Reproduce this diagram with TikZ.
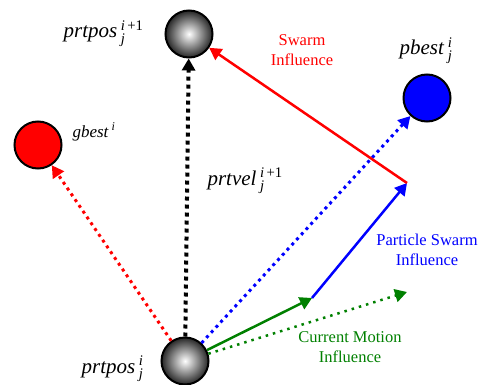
\documentclass[tikz,border=0pt]{standalone}
\usepackage{amsmath}
\usepackage{fontspec}
\setmainfont{Liberation Serif}
\usetikzlibrary{arrows.meta}
\newcommand{\pvar}[3]{\textit{#1}\,$^{\textit{#2}}_{\textit{#3}}$}

\begin{document}
\begin{tikzpicture}[x=1pt,y=-1pt,
  ball/.style={circle,draw,line width=2pt,minimum size=47pt,inner sep=0pt},
  kugel/.style={ball,inner color=white,outer color=black!85},
  pfeil/.style={-{Triangle[length=12pt,width=13pt]}},
  punkte/.style={pfeil,line width=3pt,dash pattern=on 3pt off 4pt},
  linie/.style={pfeil,line width=2.5pt},
  varname/.style={font=\fontsize{21}{24}\selectfont},
  einfluss/.style={font=\fontsize{16.5}{20}\selectfont,align=center}]
\useasboundingbox (0,0) rectangle (484,385);
% Teilchen (alt und neu), globales und persoenliches Optimum
\node[kugel] (x0) at (185,361) {};
\node[kugel] (x1) at (189,34) {};
\node[ball,fill=red] (gbest) at (38,145) {};
\node[ball,fill=blue] (pbest) at (427,98) {};
% Hilfspunkte fuer die Teilvektoren
\coordinate (v) at (407,292);
\coordinate (w) at (312,298);
\coordinate (s) at (407,183);
% gepunktete Richtungen
\draw[punkte,red] (x0) -- (gbest);
\draw[punkte,blue] (x0) -- (pbest);
\draw[punkte,line width=4pt,dash pattern=on 4pt off 4pt] (x0) -- (x1);
\draw[punkte,green!50!black,line width=2.5pt,dash pattern=on 2.5pt off 5pt] (x0) -- (v);
% Summe der Einfluesse
\draw[linie,green!50!black] (x0) -- (w);
\draw[linie,blue] (w) -- (s);
\draw[linie,red] (s) -- (x1);
% Beschriftungen
\node[varname,anchor=base east] (lx1) at (147,38) {\pvar{prtpos}{i\,\textup{+1}}{j}};
\node[varname,anchor=base east] (lx0) at (147,373) {\pvar{prtpos}{i}{j}};
\node[font=\fontsize{17}{20}\selectfont,anchor=base west] (lg) at (69,137) {\textit{gbest}\,$^{\textit{i}}$};
\node[varname,anchor=base west] (lp) at (396,55) {\pvar{pbest}{i}{j}};
\node[varname,anchor=base west] (lv) at (204,185) {\pvar{prtvel}{i\,\textup{+1}}{j}};
\node[einfluss,red] (ts) at (302,50) {Swarm\\Influence};
\node[einfluss,blue] (tp) at (427,250) {Particle Swarm\\Influence};
\node[einfluss,green!50!black] (tc) at (350,347) {Current Motion\\Influence};
\end{tikzpicture}
\end{document}
